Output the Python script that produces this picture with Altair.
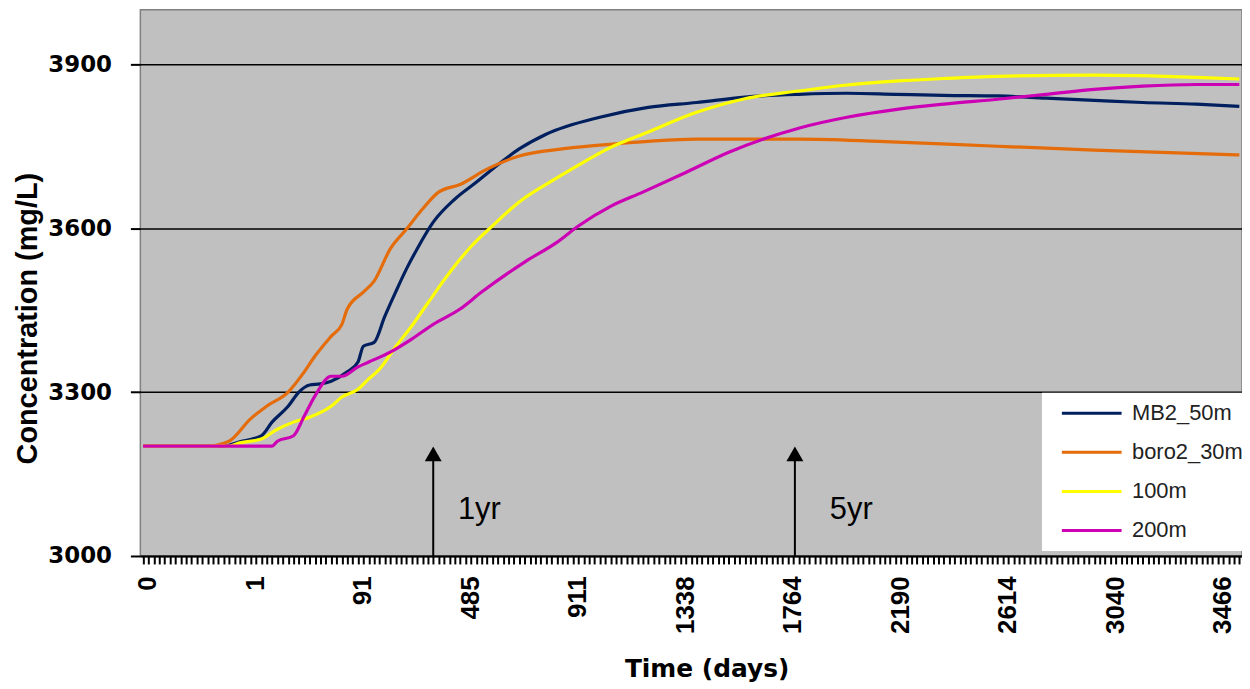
import altair as alt
import pandas as pd

# ---- axis categories (every 20th category carries a day label) ----
tick_idx = [0, 20, 40, 60, 80, 100, 120, 140, 160, 180, 200]
tick_labels = ["0", "1", "91", "485", "911", "1338", "1764", "2190", "2614", "3040", "3466"]
y_ticks = [3000, 3300, 3600, 3900]

series_names = ["MB2_50m", "boro2_30m", "100m", "200m"]
series_colors = ["#001F5F", "#E46C0A", "#FFFF00", "#CC00B4"]

# ---- series (x = category index, y = concentration mg/L) ----
mb2_x = [0, 15, 18, 22, 24, 27, 29, 31, 33, 35, 38, 40, 41, 43, 45, 47, 49, 51, 54, 58,
         62, 65, 70, 75, 85, 94, 103, 112, 122, 131, 140, 149, 159, 168, 177, 186, 196, 204]
mb2_y = [3201, 3201, 3209, 3220, 3245, 3274, 3300, 3313, 3315, 3320, 3337, 3355, 3384, 3391, 3439, 3483, 3525, 3562, 3611, 3653,
         3684, 3708, 3745, 3772, 3803, 3821, 3830, 3840, 3845, 3847, 3845, 3843, 3842, 3838, 3834, 3830, 3827, 3823]

boro_x = [0, 12, 16, 20, 23, 27, 30, 32, 35, 37, 38, 41, 43, 46, 49, 52, 55, 59, 64, 70,
          78, 85, 94, 103, 122, 137, 159, 177, 204]
boro_y = [3201, 3201, 3210, 3251, 3274, 3300, 3337, 3366, 3402, 3424, 3452, 3483, 3503, 3562, 3598, 3635, 3666, 3680, 3708, 3732,
          3745, 3752, 3759, 3763, 3763, 3759, 3750, 3743, 3734]

m100_x = [0, 16, 18, 22, 25, 28, 31, 35, 37, 40, 42, 44, 47, 50, 53, 56, 61, 65, 70, 76,
          82, 86, 94, 103, 112, 122, 131, 140, 149, 159, 177, 196, 204]
m100_y = [3201, 3201, 3207, 3214, 3232, 3245, 3254, 3274, 3291, 3305, 3324, 3342, 3383, 3421, 3463, 3505, 3566, 3604, 3648, 3686,
          3721, 3743, 3776, 3812, 3837, 3851, 3862, 3869, 3874, 3878, 3880, 3876, 3873]

m200_x = [0, 24, 25, 28, 30, 32, 35, 37, 40, 42, 46, 50, 54, 59, 63, 71, 77, 81, 87, 93,
          101, 109, 122, 131, 140, 149, 159, 168, 177, 186, 196, 204]
m200_y = [3201, 3201, 3210, 3220, 3256, 3293, 3329, 3329, 3346, 3355, 3373, 3397, 3424, 3452, 3483, 3538, 3574, 3604, 3640, 3666,
          3702, 3739, 3783, 3803, 3817, 3827, 3836, 3845, 3854, 3860, 3863, 3863]

# ---- annotations ----
arrow_x = [54.0, 121.3]
arrow_base = [3000, 3000]
arrow_tip = [3187, 3187]
ann_x = [58.6, 127.8]
ann_y = [3068, 3068]
ann_text = ["1yr", "5yr"]

rows = []
for name, xs, ys in zip(series_names, [mb2_x, boro_x, m100_x, m200_x], [mb2_y, boro_y, m100_y, m200_y]):
    for i, (a, b) in enumerate(zip(xs, ys)):
        rows.append({"series": name, "idx": a, "conc": b, "order": i})
df = pd.DataFrame(rows)

arrows = pd.DataFrame({"idx": arrow_x, "base": arrow_base, "tip": arrow_tip})
labels = pd.DataFrame({"idx": ann_x, "conc": ann_y, "text": ann_text})

label_arr = "[" + ",".join("'" + t + "'" for t in tick_labels) + "]"
label_expr = f"datum.value % 20 === 0 ? {label_arr}[datum.value / 20] : ''"

xscale = alt.Scale(domain=[-0.5, 204.5], nice=False, zero=False)
yscale = alt.Scale(domain=[3000, 4000], nice=False, zero=False)

x_axis = alt.Axis(
    values=list(range(0, 205)), tickCount=400, labelExpr=label_expr, labelAngle=-90,
    labelOverlap=False, labelFont="Liberation Sans", labelFontWeight="bold",
    labelFontSize=26, labelColor="black", labelPadding=12, labelOffset=5,
    tickSize=8, tickWidth=2, tickColor="black", domainColor="black", domainWidth=2,
    grid=False, title="Time (days)", titleFont="DejaVu Sans", titleFontWeight="bold",
    titleFontSize=25, titleColor="black", titleX=569, titleY=113, titleAlign="center",
    titleBaseline="middle", titleAngle=0,
)
y_axis = alt.Axis(
    values=y_ticks, format="d", domain=False, grid=True, gridColor="black", gridWidth=1.5,
    tickSize=10, tickWidth=2, tickColor="black", labelPadding=19,
    labelFont="DejaVu Sans", labelFontWeight="bold", labelFontSize=23, labelColor="black",
    title="Concentration (mg/L)", titleFont="Liberation Sans", titleFontWeight="bold",
    titleFontSize=29, titleColor="black", titleAngle=-90, titleX=-113, titleY=310,
    titleAlign="center", titleBaseline="middle",
)

lines = alt.Chart(df).mark_line(strokeWidth=3.2, interpolate="monotone").encode(
    x=alt.X("idx:Q", scale=xscale, axis=x_axis),
    y=alt.Y("conc:Q", scale=yscale, axis=y_axis),
    color=alt.Color(
        "series:N",
        scale=alt.Scale(domain=series_names, range=series_colors),
        legend=alt.Legend(
            title=None, orient="none", legendX=906, legendY=385, fillColor="white",
            padding=9, symbolType="M-3,0H3", symbolSize=400, symbolStrokeWidth=3,
            symbolOffset=29.5, labelOffset=29, rowPadding=16.3,
            labelFont="Liberation Sans", labelFontSize=22, labelColor="#222222",
        ),
    ),
    order="order:Q",
)

shafts = alt.Chart(arrows).mark_rule(color="black", strokeWidth=2).encode(
    x=alt.X("idx:Q", scale=xscale), y=alt.Y("base:Q", scale=yscale), y2="tip:Q"
)
heads = alt.Chart(arrows).mark_point(shape="triangle-up", filled=True, color="black", size=289, opacity=1).encode(
    x=alt.X("idx:Q", scale=xscale), y=alt.Y("tip:Q", scale=yscale)
)
texts = alt.Chart(labels).mark_text(
    align="left", baseline="alphabetic", font="Liberation Sans", fontSize=31, color="black"
).encode(x=alt.X("idx:Q", scale=xscale), y=alt.Y("conc:Q", scale=yscale), text="text:N")

chart = alt.layer(lines, shafts, heads, texts).properties(
    width=1107, height=549,
    autosize=alt.AutoSizeParams(type="none"),
    padding={"left": 133, "top": 0, "right": 0, "bottom": 126},
    background="white",
).configure_view(fill="#C0C0C0", stroke="#808080", strokeWidth=1.5)

chart.save("out.html", embed_options={"renderer": "svg", "actions": False})
